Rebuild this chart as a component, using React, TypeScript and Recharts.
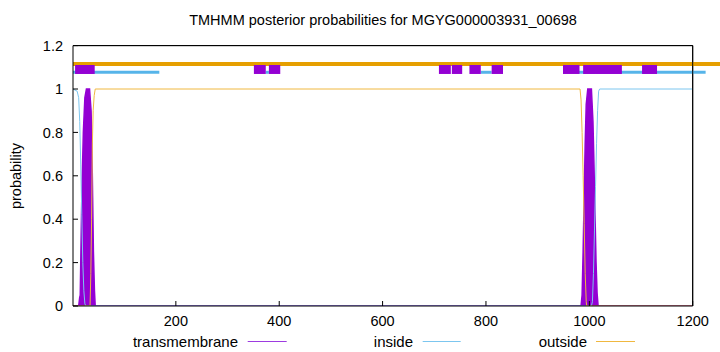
import React from 'react';
import { ComposedChart, Line, Area, XAxis, YAxis, ReferenceLine } from 'recharts';

const titleText = 'TMHMM posterior probabilities for MGYG000003931_00698';
const yLabel = 'probability';
const legendNames = ['transmembrane', 'inside', 'outside'];
const xTicks = [200, 400, 600, 800, 1000, 1200];
const yTicks = [0, 0.2, 0.4, 0.6, 0.8, 1, 1.2];

// posterior curves (position, probability)
const tmPos = [1, 12, 14, 15, 16, 18, 21, 24, 27, 33, 36, 37.5, 39, 40.5, 42.5, 44, 984, 986, 988, 990, 992, 994, 997, 1004, 1007, 1009, 1011, 1013, 1015, 1017, 1200];
const tmProb = [0, 0, 0.04, 0.05, 0.2, 0.5, 0.8, 0.96, 1, 1, 0.9, 0.75, 0.5, 0.25, 0.07, 0, 0, 0.05, 0.25, 0.5, 0.75, 0.93, 1, 1, 0.85, 0.65, 0.42, 0.2, 0.06, 0, 0];

const inPos = [1, 9, 12, 14, 16, 18, 20, 22, 24, 26, 1004, 1006, 1008, 1010, 1012, 1014, 1016, 1018, 1020, 1200];
const inProb = [1, 0.99, 0.96, 0.85, 0.65, 0.42, 0.2, 0.07, 0.01, 0, 0, 0.02, 0.15, 0.35, 0.55, 0.75, 0.9, 0.99, 1, 1];

const outPos = [1, 34, 35.5, 37, 38.5, 40, 42, 44, 982, 984, 986, 988, 990, 992, 994, 995, 1200];
const outProb = [0, 0, 0.15, 0.4, 0.75, 0.9, 0.97, 1, 1, 0.95, 0.8, 0.6, 0.38, 0.15, 0.02, 0, 0];

// predicted topology bars (start, end)
const outsideBars = [[1, 1262]];
const insideBars = [[1, 168], [374, 380], [790, 811], [980, 1225]];
const tmBlocks = [[5, 43], [351, 374], [380, 402], [709, 732], [734, 754], [768, 790], [811, 833], [949, 981], [988, 1011], [1011, 1063], [1102, 1131]];

const tmData = tmPos.map((pos, i) => ({ pos, p: tmProb[i] }));
const inData = inPos.map((pos, i) => ({ pos, p: inProb[i] }));
const outData = outPos.map((pos, i) => ({ pos, p: outProb[i] }));

const C_TM = '#9400d3';
const C_IN = '#56b4e9';
const C_OUT = '#e69f00';
const FONT = '"Liberation Sans", Arial, sans-serif';
const FS = 14.5;

export default function App() {
  const tickStyle = { fontFamily: FONT, fontSize: FS, fill: '#000' };
  return (
    <div style={{ position: 'absolute', left: 0, top: 0, width: 720, height: 352, background: '#fff' }}>
      <ComposedChart width={720} height={352} margin={{ top: 44.6, right: 26.3, left: 0, bottom: 16 }}>
        <XAxis
          xAxisId="b"
          dataKey="pos"
          type="number"
          domain={[1, 1200]}
          allowDataOverflow
          ticks={xTicks}
          height={30}
          tickSize={-5}
          tickMargin={15}
          tick={tickStyle}
          axisLine={{ stroke: '#000' }}
          tickLine={{ stroke: '#000' }}
        />
        <XAxis
          xAxisId="t"
          orientation="top"
          dataKey="pos"
          type="number"
          domain={[1, 1200]}
          allowDataOverflow
          ticks={xTicks}
          height={1}
          tickSize={-5}
          tick={false}
          axisLine={{ stroke: '#000' }}
          tickLine={{ stroke: '#000' }}
        />
        <YAxis
          yAxisId="l"
          type="number"
          domain={[0, 1.2]}
          allowDataOverflow
          ticks={yTicks}
          width={73}
          tickSize={-5}
          tickMargin={15}
          tick={tickStyle}
          axisLine={{ stroke: '#000' }}
          tickLine={{ stroke: '#000' }}
        />
        <YAxis
          yAxisId="r"
          orientation="right"
          type="number"
          domain={[0, 1.2]}
          allowDataOverflow
          ticks={yTicks}
          width={1}
          tickSize={-5}
          tick={false}
          axisLine={{ stroke: '#000' }}
          tickLine={{ stroke: '#000' }}
        />
        <ReferenceLine xAxisId="b" yAxisId="l" y={1.2} stroke="#000" strokeWidth={1} ifOverflow="visible" />
        <ReferenceLine xAxisId="b" yAxisId="l" x={1200} stroke="#000" strokeWidth={1} ifOverflow="visible" />
        <Area
          xAxisId="b"
          yAxisId="l"
          data={tmData}
          dataKey="p"
          type="linear"
          stroke={C_TM}
          strokeWidth={1.5}
          fill={C_TM}
          fillOpacity={1}
          dot={false}
          activeDot={false}
          isAnimationActive={false}
        />
        <Line
          xAxisId="b"
          yAxisId="l"
          data={inData}
          dataKey="p"
          type="linear"
          stroke="#7cc6ef"
          strokeWidth={1}
          dot={false}
          activeDot={false}
          isAnimationActive={false}
        />
        <Line
          xAxisId="b"
          yAxisId="l"
          data={outData}
          dataKey="p"
          type="linear"
          stroke="#f0b840"
          strokeWidth={1}
          dot={false}
          activeDot={false}
          isAnimationActive={false}
        />
        {outsideBars.map(([a, b], i) => (
          <ReferenceLine
            key={'o' + i}
            xAxisId="b"
            yAxisId="l"
            segment={[{ x: a, y: 1.115 }, { x: b, y: 1.115 }]}
            stroke={C_OUT}
            strokeWidth={4}
            ifOverflow="visible"
          />
        ))}
        {insideBars.map(([a, b], i) => (
          <ReferenceLine
            key={'i' + i}
            xAxisId="b"
            yAxisId="l"
            segment={[{ x: a, y: 1.077 }, { x: b, y: 1.077 }]}
            stroke={C_IN}
            strokeWidth={3}
            ifOverflow="visible"
          />
        ))}
        {tmBlocks.map(([a, b], i) => (
          <ReferenceLine
            key={'t' + i}
            xAxisId="b"
            yAxisId="l"
            segment={[{ x: a, y: 1.09 }, { x: b, y: 1.09 }]}
            stroke={C_TM}
            strokeWidth={9}
            ifOverflow="visible"
          />
        ))}
      </ComposedChart>
      <svg width={720} height={352} style={{ position: 'absolute', left: 0, top: 0, pointerEvents: 'none' }}>
        <text x={383} y={20} textAnchor="middle" dominantBaseline="central" fontFamily={FONT} fontSize={FS} fill="#000">
          {titleText}
        </text>
        <text
          x={16}
          y={176}
          textAnchor="middle"
          dominantBaseline="central"
          fontFamily={FONT}
          fontSize={FS}
          fill="#000"
          transform="rotate(-90 16 176)"
        >
          {yLabel}
        </text>
        <text x={238} y={341.5} textAnchor="end" dominantBaseline="central" fontFamily={FONT} fontSize={15} fill="#000">
          {legendNames[0]}
        </text>
        <line x1={247.7} y1={341.5} x2={286.7} y2={341.5} stroke="#9d3be0" strokeWidth={1} />
        <text x={413} y={341.5} textAnchor="end" dominantBaseline="central" fontFamily={FONT} fontSize={15} fill="#000">
          {legendNames[1]}
        </text>
        <line x1={422.7} y1={341.5} x2={460.7} y2={341.5} stroke="#7cc6ef" strokeWidth={1} />
        <text x={587} y={341.5} textAnchor="end" dominantBaseline="central" fontFamily={FONT} fontSize={15} fill="#000">
          {legendNames[2]}
        </text>
        <line x1={596} y1={341.5} x2={635} y2={341.5} stroke="#f0b840" strokeWidth={1} />
      </svg>
    </div>
  );
}
